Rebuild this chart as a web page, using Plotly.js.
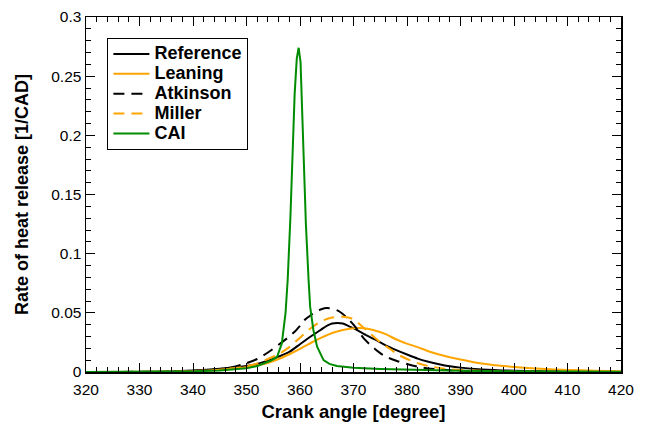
<!DOCTYPE html>
<html>
<head>
<meta charset="utf-8">
<script src="https://cdn.plot.ly/plotly-3.0.1.min.js"></script>
<style>html,body{margin:0;padding:0;background:#fff;}#chart{width:648px;height:422px;}</style>
</head>
<body>
<div id="chart"></div>
<script>
// Reference (black solid)
const refX = [320,330,335,340,345,350,352,354,356,358,360,362,364,365,366,367,368,369,370,372,374,376,378,380,382,384,386,388,390,394,400,410,420];
const refY = [0,0,0.0003,0.0012,0.0028,0.005,0.0068,0.0095,0.013,0.017,0.0235,0.030,0.036,0.039,0.041,0.0415,0.041,0.039,0.037,0.032,0.0275,0.0225,0.0185,0.0148,0.0113,0.0087,0.0066,0.0049,0.0037,0.0022,0.0011,0.0003,0.0001];
// Leaning (orange solid)
const leanX = [320,335,340,345,350,353,356,358,360,362,364,366,368,370,371,372,374,376,378,380,382,384,386,388,390,393,396,400,405,410,415,420];
const leanY = [0,0.0002,0.0007,0.002,0.004,0.0065,0.011,0.015,0.0195,0.0245,0.029,0.033,0.0355,0.037,0.0372,0.037,0.035,0.032,0.0275,0.024,0.021,0.0175,0.0148,0.0125,0.0105,0.0078,0.006,0.0043,0.0027,0.0017,0.0011,0.0007];
// Atkinson (black dashed)
const atkX = [320,335,340,344,347,350,352,354,356,358,359,360,361,362,363,364,365,366,367,368,369,370,371,372,373,374,375,376,378,380,382,384,387,390,400,420];
const atkY = [0,0.0003,0.001,0.002,0.0037,0.0075,0.011,0.0165,0.023,0.030,0.034,0.039,0.0445,0.048,0.051,0.053,0.054,0.0535,0.052,0.049,0.045,0.040,0.034,0.028,0.0235,0.0195,0.016,0.013,0.0095,0.0068,0.0045,0.003,0.0018,0.001,0.0003,0];
// Miller (orange dashed)
const milX = [320,335,340,345,350,352,354,356,358,360,362,364,366,367.5,369,370,371,372,373,374,375,376,377,378,380,382,384,387,390,395,400,420];
const milY = [0,0.0002,0.0008,0.002,0.0048,0.0073,0.011,0.015,0.021,0.029,0.037,0.043,0.046,0.047,0.046,0.0445,0.041,0.037,0.033,0.029,0.025,0.022,0.019,0.0155,0.011,0.0075,0.005,0.0028,0.0017,0.0008,0.0004,0];
// CAI (green)
const caiX = [320,335,340,345,348,350,352,353.2,354.5,355.7,356.6,357.3,357.7,358.2,358.6,359,359.4,359.75,360.1,360.6,361.1,361.6,361.9,362.5,363.2,364.4,365.5,366.9,370,375,380,390,400,420];
const caiY = [0,0.0002,0.0006,0.0013,0.0022,0.0032,0.005,0.0073,0.0095,0.0127,0.024,0.05,0.078,0.13,0.189,0.235,0.265,0.274,0.262,0.189,0.125,0.078,0.055,0.0355,0.0214,0.010,0.0068,0.005,0.0035,0.0025,0.0018,0.001,0.0006,0.0002];

const names = ['Reference','Leaning','Atkinson','Miller','CAI'];
const legendName = n => '<span style="font-size:18px">' + n + '</span>';

const FONT = 'Liberation Sans, Arial, sans-serif';

const traces = [
  {x: refX, y: refY, name: legendName(names[0]), line: {color: '#000000', width: 2, shape: 'spline', smoothing: 0.6}},
  {x: leanX, y: leanY, name: legendName(names[1]), line: {color: '#FFA500', width: 2, shape: 'spline', smoothing: 0.6}},
  {x: atkX, y: atkY, name: legendName(names[2]), line: {color: '#000000', width: 2, dash: '11px,7px', shape: 'spline', smoothing: 0.6}},
  {x: milX, y: milY, name: legendName(names[3]), line: {color: '#FFA500', width: 2, dash: '11px,7px', shape: 'spline', smoothing: 0.6}},
  {x: caiX, y: caiY, name: legendName(names[4]), line: {color: '#008C00', width: 2}}
].map(t => Object.assign({type: 'scatter', mode: 'lines'}, t));

const axisCommon = {
  showgrid: false, zeroline: false, showline: true, linecolor: '#000', linewidth: 1.5,
  mirror: 'ticks', ticks: 'inside', ticklen: 9, tickwidth: 1, tickcolor: '#000',
  tickfont: {family: FONT, size: 15.5, color: '#000'}
};

const layout = {
  width: 648, height: 422,
  margin: {l: 86, r: 27, t: 17, b: 50},
  paper_bgcolor: '#fff', plot_bgcolor: '#fff',
  showlegend: true,
  legend: {
    x: 0.04, y: 0.941, xanchor: 'left', yanchor: 'top',
    bordercolor: '#000', borderwidth: 1, bgcolor: '#fff',
    font: {family: FONT, size: 13, color: '#000', weight: 'bold'},
    tracegroupgap: 0, itemwidth: 36
  },
  xaxis: Object.assign({}, axisCommon, {
    range: [320, 420], dtick: 10, tick0: 320, ticklabelstandoff: 3,
    minor: {dtick: 2, ticks: 'inside', ticklen: 5, tickcolor: '#000'},
    title: {text: '<b>Crank angle [degree]</b>', standoff: 10, font: {family: FONT, size: 18.5, color: '#000'}}
  }),
  yaxis: Object.assign({}, axisCommon, {
    range: [0, 0.3], dtick: 0.05, tick0: 0,
    minor: {dtick: 0.01, ticks: 'inside', ticklen: 5, tickcolor: '#000'},
    title: {text: '<b>Rate of heat release [1/CAD]</b>', standoff: 18, font: {family: FONT, size: 18, color: '#000'}}
  })
};

Plotly.newPlot('chart', traces, layout, {displayModeBar: false, staticPlot: true});
</script>
</body>
</html>
